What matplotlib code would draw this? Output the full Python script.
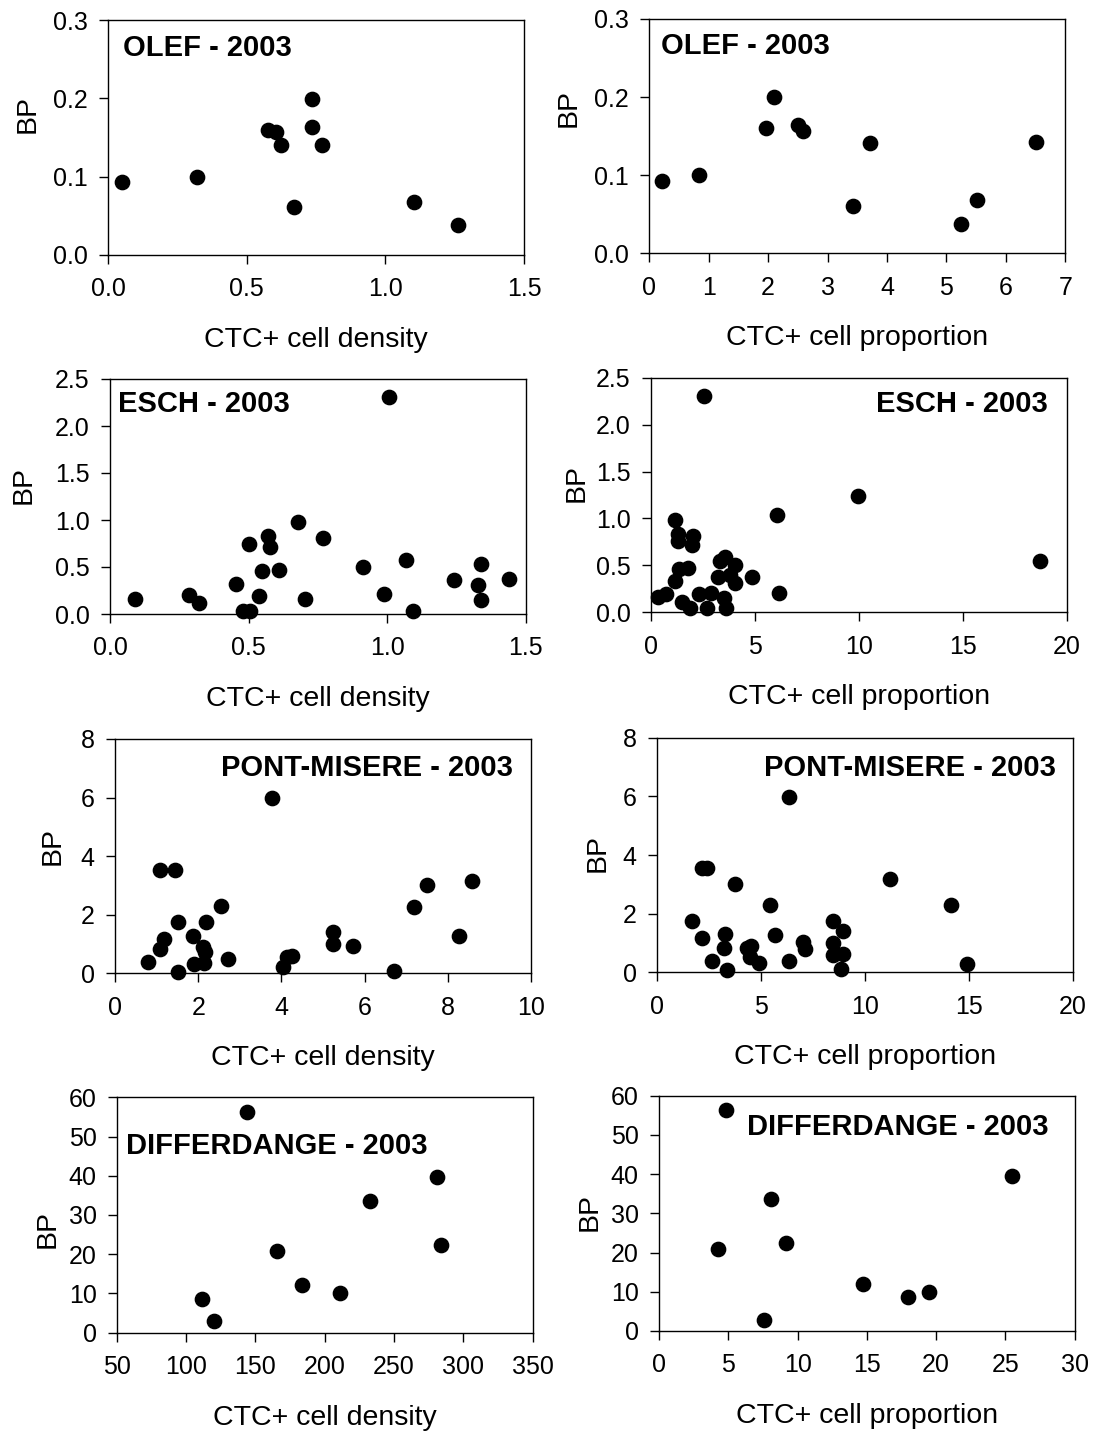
import matplotlib
matplotlib.use("Agg")
import matplotlib.pyplot as plt
import numpy as np

plt.rcParams['font.family'] = ['Liberation Sans', 'DejaVu Sans']

#### DATA ####

# OLEF - 2003
olef_density = [0.048, 0.321, 0.575, 0.605, 0.622, 0.735, 0.735, 0.771, 0.669, 1.104, 1.263]
olef_bp_d = [0.093, 0.100, 0.160, 0.157, 0.140, 0.199, 0.164, 0.141, 0.061, 0.068, 0.038]
olef_prop = [0.21, 0.84, 1.96, 2.10, 2.51, 2.58, 3.43, 3.72, 5.24, 5.51, 6.51]
olef_bp_p = [0.093, 0.100, 0.161, 0.200, 0.164, 0.157, 0.061, 0.141, 0.038, 0.068, 0.142]

# ESCH - 2003
esch_density = [0.090, 0.285, 0.321, 0.456, 0.502, 0.479, 0.506, 0.538, 0.550, 0.569,
                0.576, 0.609, 0.677, 0.705, 0.770, 0.913, 0.988, 1.007, 1.069, 1.092,
                1.240, 1.329, 1.340, 1.340, 1.441]
esch_bp_d = [0.156, 0.200, 0.113, 0.322, 0.747, 0.035, 0.035, 0.195, 0.453, 0.825,
             0.711, 0.471, 0.981, 0.159, 0.804, 0.496, 0.212, 2.308, 0.573, 0.035,
             0.361, 0.304, 0.527, 0.149, 0.368]
esch_prop = [2.56, 6.04, 9.97, 18.69, 6.15, 1.15, 1.31, 1.31, 2.04, 1.96,
             1.35, 1.79, 1.15, 0.35, 0.72, 1.47, 1.88, 2.32, 2.88, 2.68,
             3.53, 3.59, 3.32, 3.56, 4.04, 3.24, 3.80, 4.04, 4.84]
esch_bp_p = [2.308, 1.034, 1.235, 0.545, 0.209, 0.980, 0.836, 0.757, 0.810, 0.720,
             0.460, 0.470, 0.330, 0.160, 0.196, 0.114, 0.043, 0.193, 0.210, 0.043,
             0.150, 0.043, 0.543, 0.589, 0.507, 0.371, 0.400, 0.310, 0.375]

# PONT-MISERE - 2003
pont_density = [0.80, 1.07, 1.44, 1.07, 1.18, 1.51, 1.52, 1.88, 1.90, 2.12,
                2.16, 2.14, 2.19, 2.55, 2.72, 3.78, 4.03, 4.13, 4.26, 5.25,
                5.25, 5.71, 6.71, 7.19, 7.49, 8.28, 8.58]
pont_bp_d = [0.375, 3.53, 3.53, 0.83, 1.16, 1.74, 0.057, 1.27, 0.31, 0.91,
             0.74, 0.36, 1.76, 2.30, 0.49, 5.98, 0.23, 0.55, 0.60, 1.42,
             1.00, 0.94, 0.08, 2.28, 3.01, 1.27, 3.16]
pont_prop = [1.71, 2.16, 2.16, 2.40, 2.64, 3.77, 3.29, 3.24, 3.40, 4.35,
             4.55, 4.49, 4.94, 5.45, 5.69, 6.36, 6.36, 7.05, 7.13, 8.46,
             8.46, 8.49, 8.97, 8.97, 8.86, 11.22, 14.15, 14.90]
pont_bp_p = [1.76, 1.16, 3.55, 3.55, 0.40, 3.01, 1.31, 0.84, 0.08, 0.84,
             0.91, 0.53, 0.31, 2.30, 1.27, 5.99, 0.40, 1.05, 0.78, 1.76,
             0.99, 0.59, 1.42, 0.63, 0.10, 3.18, 2.30, 0.27]

# DIFFERDANGE - 2003
diff_density = [111.8, 120.0, 144.2, 165.9, 183.4, 211.3, 232.5, 280.8, 283.7]
diff_bp_d = [8.6, 2.9, 56.3, 20.9, 12.1, 10.0, 33.6, 39.6, 22.4]
diff_prop = [4.81, 4.28, 7.60, 8.06, 9.14, 14.75, 17.99, 19.51, 25.5]
diff_bp_p = [56.3, 20.9, 2.8, 33.6, 22.5, 12.1, 8.6, 10.0, 39.6]

W, H = 1094, 1436

fig = plt.figure(figsize=(W / 100, H / 100), dpi=100)


def panel(box, xs, ys, xlim, xticks, xfmt, ylim, yticks, yfmt, xlabel, title,
          title_pos, title_ha, ylab_pos):
    left, top, right, bottom = box
    ax = fig.add_axes([left / W, 1 - bottom / H, (right - left) / W, (bottom - top) / H])
    ax.plot(xs, ys, ls='none', marker='o', ms=10.3, color='black', clip_on=False, zorder=3)
    ax.set_xlim(*xlim)
    ax.set_ylim(*ylim)
    ax.set_xticks(xticks)
    ax.set_xticklabels([xfmt % t for t in xticks])
    ax.set_yticks(yticks)
    ax.set_yticklabels([yfmt % t for t in yticks])
    ax.tick_params(direction='out', length=6.5, width=1, labelsize=18, color='black')
    ax.tick_params(axis='x', pad=9.5)
    ax.tick_params(axis='y', pad=8)
    for s in ax.spines.values():
        s.set_linewidth(1)
    ax.set_xlabel(xlabel, fontsize=20.5, va='center')
    ax.xaxis.set_label_coords(0.5, -85 / (bottom - top))
    ax.set_ylabel('BP', fontsize=20.5, va='center')
    ax.yaxis.set_label_coords(*ylab_pos)
    ax.text(title_pos[0], title_pos[1], title, transform=ax.transAxes, fontsize=21,
            fontweight='bold', ha=title_ha, va='center')
    return ax


dens = 'CTC+ cell density'
prop = 'CTC+ cell proportion'

# row 1
panel((108.3, 20, 524, 255), olef_density, olef_bp_d, (0, 1.5), [0, 0.5, 1.0, 1.5], '%.1f',
      (0, 0.3), [0, 0.1, 0.2, 0.3], '%.1f', dens, 'OLEF - 2003', (0.036, 0.882), 'left',
      (-0.195, 0.6))
panel((649.3, 19, 1065.3, 253.3), olef_prop, olef_bp_p, (0, 7), list(range(0, 8)), '%d',
      (0, 0.3), [0, 0.1, 0.2, 0.3], '%.1f', prop, 'OLEF - 2003', (0.028, 0.886), 'left',
      (-0.195, 0.62))

# row 2
panel((110, 379, 525.7, 614), esch_density, esch_bp_d, (0, 1.5), [0, 0.5, 1.0, 1.5], '%.1f',
      (0, 2.5), [0, 0.5, 1.0, 1.5, 2.0, 2.5], '%.1f', dens, 'ESCH - 2003', (0.02, 0.892), 'left',
      (-0.207, 0.55))
panel((651, 377.7, 1067, 612.3), esch_prop, esch_bp_p, (0, 20), [0, 5, 10, 15, 20], '%d',
      (0, 2.5), [0, 0.5, 1.0, 1.5, 2.0, 2.5], '%.1f', prop, 'ESCH - 2003', (0.954, 0.887), 'right',
      (-0.178, 0.55))

# row 3
panel((115, 739, 531, 973.3), pont_density, pont_bp_d, (0, 10), [0, 2, 4, 6, 8, 10], '%d',
      (0, 8), [0, 2, 4, 6, 8], '%d', dens, 'PONT-MISERE - 2003', (0.956, 0.875), 'right',
      (-0.149, 0.545))
panel((656.7, 737.7, 1072.7, 972.3), pont_prop, pont_bp_p, (0, 20), [0, 5, 10, 15, 20], '%d',
      (0, 8), [0, 2, 4, 6, 8], '%d', prop, 'PONT-MISERE - 2003', (0.96, 0.872), 'right',
      (-0.141, 0.507))

# row 4
panel((116.7, 1097.3, 532.7, 1332.7), diff_density, diff_bp_d, (50, 350),
      [50, 100, 150, 200, 250, 300, 350], '%d',
      (0, 60), [0, 10, 20, 30, 40, 50, 60], '%d', dens, 'DIFFERDANGE - 2003', (0.022, 0.794), 'left',
      (-0.165, 0.44))
panel((659, 1095.7, 1074.7, 1331), diff_prop, diff_bp_p, (0, 30), [0, 5, 10, 15, 20, 25, 30], '%d',
      (0, 60), [0, 10, 20, 30, 40, 50, 60], '%d', prop, 'DIFFERDANGE - 2003', (0.937, 0.868), 'right',
      (-0.166, 0.507))

fig.savefig('out.png', dpi=100)
